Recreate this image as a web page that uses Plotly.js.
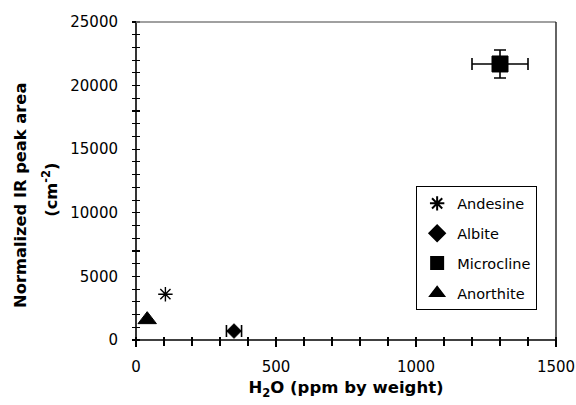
<!DOCTYPE html>
<html><head><meta charset="utf-8">
<script src="https://cdn.plot.ly/plotly-3.0.1.min.js"></script>
<style>html,body{margin:0;padding:0;background:#fff}#chart{width:576px;height:405px}</style>
</head><body><div id="chart"></div>
<script>
// ---- data ----
const minerals = ['Andesine', 'Albite', 'Microcline', 'Anorthite'];
const h2oPpm = [105, 350, 1300, 40];
const peakArea = [3600, 700, 21700, 1600];
const h2oErr = [0, 27, 100, 0];
const areaErr = [0, 0, 1100, 0];
const xTickVals = [0, 500, 1000, 1500];
const yTickVals = [0, 5000, 10000, 15000, 20000, 25000];

// ---- styles ----
const FONT = 'DejaVu Sans, Verdana, sans-serif';
const markerStyle = {
  Andesine:   {symbol: 'asterisk-open', size: 12, color: '#000', line: {color: '#000', width: 1.4}},
  Albite:     {symbol: 'diamond', size: 11.5, color: '#000', line: {color: '#000', width: 0.5}},
  Microcline: {symbol: 'square', size: 16, color: '#000', line: {color: '#000', width: 1}},
  Anorthite:  {symbol: 'triangle-up', size: 16, color: '#000', line: {color: '#000', width: 1}}
};

function errBar(v) {
  return v > 0
    ? {type: 'data', array: [v], visible: true, color: '#000', thickness: 1.6, width: 6}
    : {visible: false};
}

const traces = minerals.map((m, i) => ({
  type: 'scatter', mode: 'markers', name: m, legendgroup: m,
  x: [h2oPpm[i]], y: [peakArea[i]],
  error_x: errBar(h2oErr[i]), error_y: errBar(areaErr[i]),
  marker: markerStyle[m], cliponaxis: false
}));

// plot area: 420 x 318 px. The tick rows are shifted 4 px into the plot so that
// the outside ticks cross the frame lines (drawn as shapes), like the reference.
const PLOT_W = 420, PLOT_H = 318, CROSS = 4;
const tickFont = {family: FONT, size: 15, color: '#000'};
const layout = {
  width: 576, height: 405,
  margin: {l: 136, r: 20, t: 22, b: 65},
  paper_bgcolor: '#fff', plot_bgcolor: '#fff',
  showlegend: true,
  font: {family: FONT, color: '#000'},
  xaxis: {
    range: [0, 1500], tickvals: xTickVals, ticktext: xTickVals.map(String),
    anchor: 'free', position: CROSS / PLOT_H,
    ticks: 'outside', ticklen: 10, tickwidth: 1.3, tickcolor: '#000',
    minor: {dtick: 100, tick0: 0, ticks: 'outside', ticklen: 8.5, tickwidth: 1.1, tickcolor: '#000'},
    showline: false, showgrid: false, zeroline: false,
    tickfont: tickFont, ticklabelstandoff: 7,
    title: {text: '<b>H<sub>2</sub>O (ppm by weight)</b>', font: {family: FONT, size: 16.5, color: '#000'}, standoff: 6}
  },
  yaxis: {
    range: [0, 25000], tickvals: yTickVals, ticktext: yTickVals.map(String),
    anchor: 'free', position: CROSS / PLOT_W,
    ticks: 'outside', ticklen: 8, tickwidth: 1.3, tickcolor: '#000',
    minor: {dtick: 1000, tick0: 0, ticks: 'outside', ticklen: 8, tickwidth: 1.1, tickcolor: '#000'},
    showline: false, showgrid: false, zeroline: false,
    tickfont: tickFont, ticklabelstandoff: 11
  },
  legend: {
    x: 0.667, y: 0.483, xanchor: 'left', yanchor: 'top',
    bgcolor: '#fff', bordercolor: '#000', borderwidth: 1,
    font: {family: FONT, size: 14.5, color: '#000'},
    itemsizing: 'constant', tracegroupgap: 8, traceorder: 'grouped'
  },
  shapes: [
    {type: 'line', xref: 'paper', yref: 'paper', x0: 0, x1: 1, y0: 0, y1: 0, line: {color: '#000', width: 1.6}},
    {type: 'line', xref: 'paper', yref: 'paper', x0: 0, x1: 0, y0: 0, y1: 1, line: {color: '#000', width: 1.6}},
    {type: 'line', xref: 'paper', yref: 'paper', x0: 0, x1: 1, y0: 1, y1: 1, line: {color: '#808080', width: 1.5}},
    {type: 'line', xref: 'paper', yref: 'paper', x0: 1, x1: 1, y0: 0, y1: 1, line: {color: '#111', width: 1.3}}
  ],
  annotations: [
    {text: '<b>Normalized IR peak area</b>', xref: 'paper', yref: 'paper', x: -0.274, y: 0.456,
     xanchor: 'center', yanchor: 'middle', textangle: -90, showarrow: false,
     font: {family: FONT, size: 16.3, color: '#000'}},
    {text: '<b>(cm<sup>-2</sup>)</b>', xref: 'paper', yref: 'paper', x: -0.205, y: 0.472,
     xanchor: 'center', yanchor: 'middle', textangle: -90, showarrow: false,
     font: {family: FONT, size: 16.3, color: '#000'}}
  ]
};

Plotly.newPlot('chart', traces, layout, {displayModeBar: false, staticPlot: true});
</script>
</body></html>
